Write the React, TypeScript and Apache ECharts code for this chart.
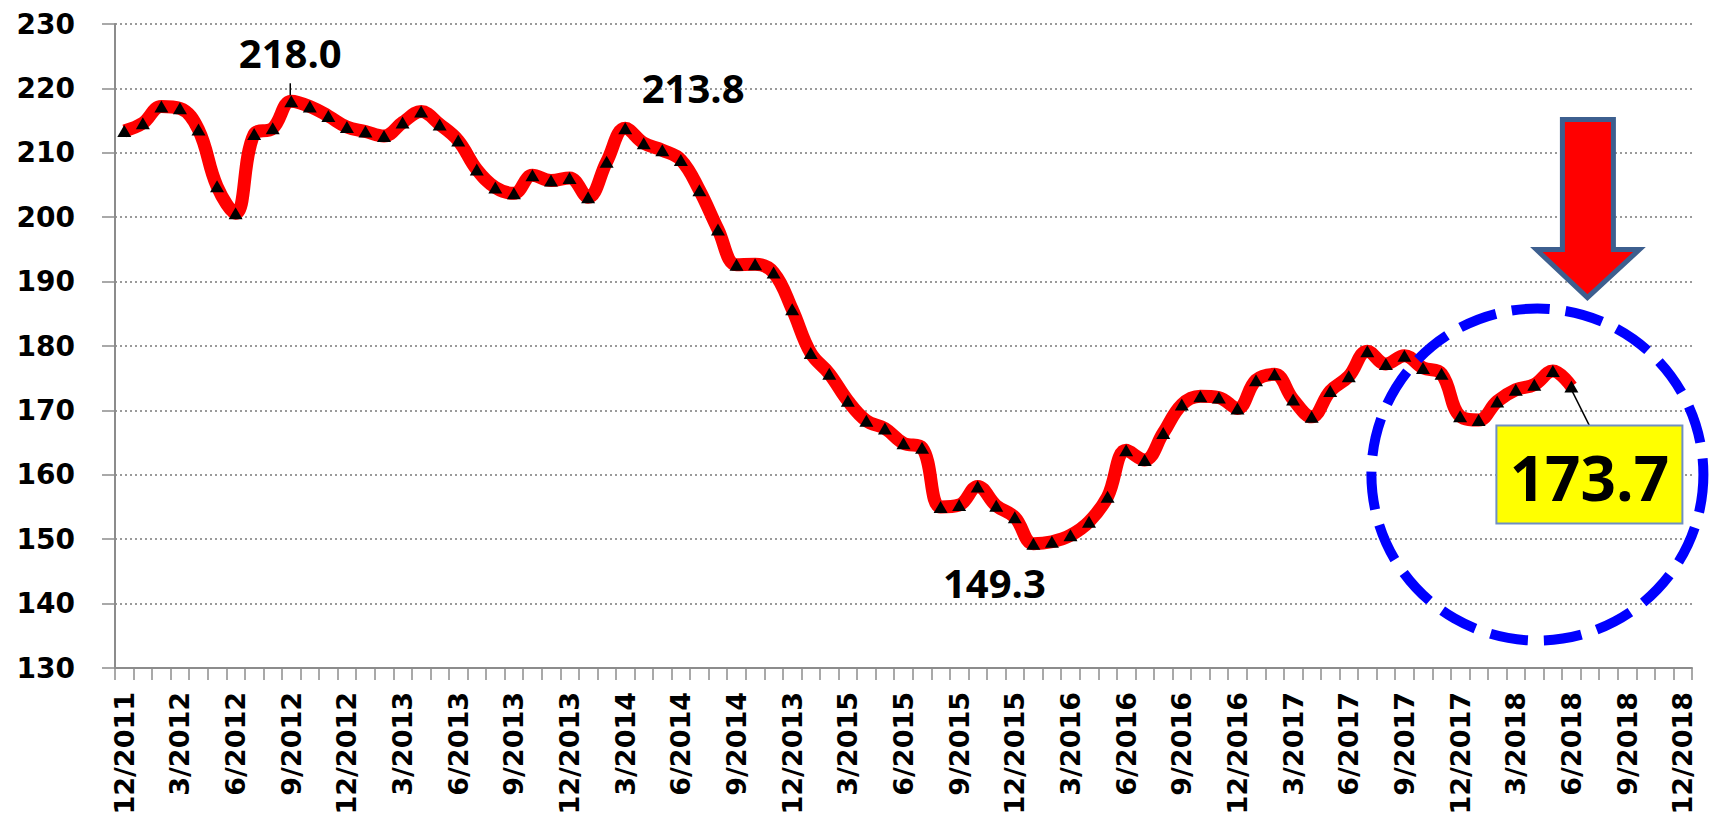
import React, { useEffect, useRef } from "react";
import * as echarts from "echarts";

const tickLabels = [
  "12/2011", "3/2012", "6/2012", "9/2012", "12/2012", "3/2013", "6/2013", "9/2013",
  "12/2013", "3/2014", "6/2014", "9/2014", "12/2013", "3/2015", "6/2015", "9/2015",
  "12/2015", "3/2016", "6/2016", "9/2016", "12/2016", "3/2017", "6/2017", "9/2017",
  "12/2017", "3/2018", "6/2018", "9/2018", "12/2018",
];

const monthCount = 85;
const categories = Array.from({ length: monthCount }, (_, i) =>
  i % 3 === 0 ? tickLabels[i / 3] : `m${i}`
);

const values = [
  213.4, 214.6, 217.2, 216.9, 213.6, 204.8, 200.6, 212.9, 213.8, 218.0,
  217.2, 215.7, 214.0, 213.3, 212.6, 214.7, 216.4, 214.4, 211.9, 207.4,
  204.6, 203.7, 206.5, 205.7, 206.1, 203.1, 208.6, 213.8, 211.5, 210.4,
  208.9, 204.2, 198.1, 192.6, 192.7, 191.4, 185.7, 178.9, 175.7, 171.5,
  168.4, 167.2, 164.9, 164.2, 155.0, 155.3, 158.2, 155.2, 153.4, 149.3,
  149.6, 150.6, 152.7, 156.6, 163.8, 162.3, 166.5, 170.9, 172.2, 172.0,
  170.3, 174.7, 175.6, 171.7, 169.0, 173.0, 175.3, 179.2, 177.2, 178.5,
  176.6, 175.7, 169.1, 168.5, 171.4, 173.2, 174.0, 176.1, 173.7,
];

const yTicks = { min: 130, max: 230, interval: 10 };

// annotated points: index in values
const annotated = [9, 27, 49];
const lastIndex = values.length - 1;

export default function App() {
  const ref = useRef<HTMLDivElement>(null);

  useEffect(() => {
    document.body.style.margin = "0";
    const chart = echarts.init(ref.current!, undefined, { renderer: "svg" });
    const axisFont = "DejaVu Sans";
    chart.setOption({
      animation: false,
      backgroundColor: "#ffffff",
      grid: { left: 115, right: 23, top: 24, bottom: 155 },
      xAxis: {
        type: "category",
        data: categories,
        boundaryGap: true,
        axisLine: { show: true, lineStyle: { color: "#8c8c8c", width: 2 } },
        axisTick: { show: true, interval: 0, length: 12, lineStyle: { color: "#8c8c8c", width: 1.5 } },
        axisLabel: {
          interval: 2,
          rotate: 90,
          margin: 24,
          color: "#000",
          fontFamily: axisFont,
          fontWeight: "bold",
          fontSize: 27,
        },
        splitLine: { show: false },
      },
      yAxis: {
        type: "value",
        min: yTicks.min,
        max: yTicks.max,
        interval: yTicks.interval,
        axisLine: { show: true, lineStyle: { color: "#8c8c8c", width: 2 } },
        axisTick: { show: true, length: 13, lineStyle: { color: "#8c8c8c", width: 1.5 } },
        axisLabel: {
          margin: 40,
          color: "#000",
          fontFamily: axisFont,
          fontWeight: "bold",
          fontSize: 28,
        },
        splitLine: { show: true, lineStyle: { color: "#9a9a9a", width: 2, type: [2, 3] } },
      },
      series: [
        {
          type: "line",
          data: values,
          smooth: 0.4,
          lineStyle: { color: "#ff0000", width: 13 },
          symbol: "triangle",
          symbolSize: [14, 12],
          showAllSymbol: true,
          itemStyle: { color: "#000000" },
          z: 3,
        },
      ],
    });

    const px = (i: number) => chart.convertToPixel({ seriesIndex: 0 }, [i, values[i]]) as number[];
    const labelFamily = '"Open Sans", "Noto Sans", sans-serif';
    const [p0, p1, p2] = annotated.map(px);
    const pl = px(lastIndex);
    const offsets = [
      [-1, -49],
      [68, -41],
      [-39, 39],
    ];
    const texts = annotated.map((i, k) => {
      const p = [p0, p1, p2][k];
      return {
        type: "text",
        z: 100,
        style: {
          text: values[i].toFixed(1),
          x: p[0] + offsets[k][0],
          y: p[1] + offsets[k][1],
          fontFamily: labelFamily,
          fontWeight: "bold",
          fontSize: 40,
          fill: "#000",
          align: "center",
          verticalAlign: "middle",
        },
      };
    });

    const boxW = 186;
    const boxH = 98;
    const boxCx = pl[0] + 18;
    const boxCy = pl[1] + 88;
    const circleC = [pl[0] - 34, pl[1] + 88];
    const ax = pl[0] + 16;
    const arrowTop = pl[1] - 267;
    chart.setOption({
      graphic: [
        ...texts,
        {
          type: "line",
          z: 100,
          shape: { x1: p0[0] - 1, y1: p0[1] - 18, x2: p0[0] - 1, y2: p0[1] - 6 },
          style: { stroke: "#000", lineWidth: 1.5 },
        },
        {
          type: "line",
          z: 100,
          shape: { x1: pl[0], y1: pl[1] + 3, x2: boxCx, y2: boxCy - boxH / 2 },
          style: { stroke: "#000", lineWidth: 1.5 },
        },
        {
          type: "rect",
          z: 100,
          shape: { x: boxCx - boxW / 2, y: boxCy - boxH / 2, width: boxW, height: boxH },
          style: { fill: "#ffff00", stroke: "#6f8fc4", lineWidth: 2 },
        },
        {
          type: "text",
          z: 101,
          style: {
            text: values[lastIndex].toFixed(1),
            x: boxCx,
            y: boxCy + 2,
            fontFamily: labelFamily,
            fontWeight: "bold",
            fontSize: 62,
            fill: "#000",
            align: "center",
            verticalAlign: "middle",
          },
        },
        {
          type: "circle",
          z: 102,
          shape: { cx: circleC[0], cy: circleC[1], r: 166 },
          style: { fill: "none", stroke: "#0000ff", lineWidth: 10, lineDash: [38, 16] },
        },
        {
          type: "polygon",
          z: 103,
          shape: {
            points: [
              [ax - 25, arrowTop],
              [ax + 26, arrowTop],
              [ax + 26, arrowTop + 130],
              [ax + 52, arrowTop + 130],
              [ax, arrowTop + 178],
              [ax - 51, arrowTop + 130],
              [ax - 25, arrowTop + 130],
            ],
          },
          style: { fill: "#ff0000", stroke: "#3d5f8f", lineWidth: 5, lineJoin: "miter" },
        },
      ],
    });

    return () => chart.dispose();
  }, []);

  return (
    <div
      ref={ref}
      style={{ position: "fixed", left: 0, top: 0, width: 1715, height: 823 }}
    />
  );
}
